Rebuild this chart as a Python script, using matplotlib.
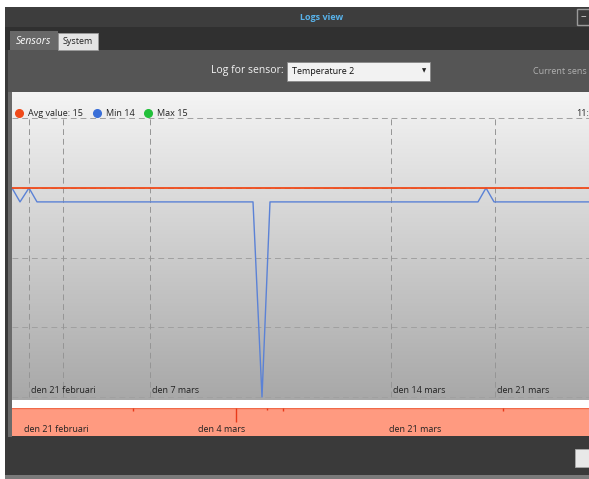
import numpy as np
import matplotlib
matplotlib.use("Agg")
import matplotlib.pyplot as plt
from matplotlib.patches import Rectangle
from matplotlib.lines import Line2D

W, H = 589, 479

# data (x = sample position along the log, y = temperature)
sample_t = [0, 8, 17, 25, 241, 250, 258, 466, 474, 482, 577]
min_vals = [15, 14.8, 15, 14.8, 14.8, 12, 14.8, 14.8, 15, 14.8, 14.8]
avg_t = [0, 577]
avg_vals = [15, 15]
grid_levels = [12, 13, 14, 15, 16]
tick_t = [17, 51, 138, 379, 483]
tick_labels = ["den 21 februari", "", "den 7 mars", "den 14 mars", "den 21 mars"]

nav_spike_t = [121, 224, 255, 271, 491]
nav_spike_h = [0.1, 0.5, 0.07, 0.1, 0.12]
nav_tick_t = [12, 186, 377]
nav_labels = ["den 21 februari", "den 4 mars", "den 21 mars"]

legend_items = [("Avg value: 15", "#f04a1a"), ("Min 14", "#3a6fd8"), ("Max 15", "#22c03a")]

plt.rcParams['font.family'] = ['Open Sans', 'DejaVu Sans']

fig = plt.figure(figsize=(W / 100, H / 100), dpi=100)
fig.patch.set_facecolor("white")


def fx(x):
    return x / W


def fy(y):
    return 1 - y / H


def rect(x0, y0, x1, y1, color, z=-5, **kw):
    fig.add_artist(Rectangle((fx(x0), fy(y1)), (x1 - x0) / W, (y1 - y0) / H,
                             transform=fig.transFigure, facecolor=color, zorder=z, **kw))


def box(x0, y0, x1, y1):
    return [fx(x0), fy(y1), (x1 - x0) / W, (y1 - y0) / H]


# window frame
rect(5, 7, 589, 477, "#3a3a3a", lw=0)
rect(5, 7, 589, 27, "#3d3d3d", lw=0)
rect(5, 27, 589, 50, "#303030", lw=0)
rect(8, 50, 589, 92, "#555555", lw=0)
rect(8, 92, 12, 437, "#6a6a6a", lw=0)
rect(5, 475, 589, 479, "#7a7a7a", lw=0)

# title bar
fig.text(fx(322), fy(17), "Logs view", color="#58b2ea", fontsize=6.5, fontweight="bold",
         ha="center", va="center")
rect(577, 9, 592, 25, "#3a3a3a", z=-4, lw=1, edgecolor="#9a9a9a")
fig.text(fx(583), fy(17), "–", color="#dddddd", fontsize=8, ha="center", va="center")

# tabs
rect(10, 31, 58, 50, "#686868", z=-4, lw=0)
fig.text(fx(16), fy(41), "Sensors", color="white", fontsize=7.5, style="italic", va="center")
rect(58, 33, 98, 50, "#e4e4e4", z=-4, lw=0.6, edgecolor="#999999")
fig.text(fx(63), fy(42), "System", color="#222222", fontsize=6.5, va="center")

# sensor selector
fig.text(fx(284), fy(71), "Log for sensor:", color="#f2f2f2", fontsize=7.5, ha="right", va="center")
rect(287, 62, 430, 81, "#f2f2f2", z=-4, lw=0.6, edgecolor="#888888")
fig.text(fx(292), fy(71.5), "Temperature 2", color="#111111", fontsize=6.5, va="center")
fig.text(fx(424), fy(71), "▼", color="#222222", fontsize=4, ha="center", va="center")
fig.text(fx(533), fy(71), "Current sens", color="#b0b0b0", fontsize=6.5, va="center")

# main chart
ax = fig.add_axes(box(12, 92, 589, 400))
y_top = 15 + (188 - 92) / 69.7
y_bot = 12 - 3 / 69.7
grad = np.linspace(0, 1, 256).reshape(-1, 1)
ax.imshow(grad, extent=[avg_t[0], avg_t[-1], y_bot, y_top], aspect="auto",
          cmap=matplotlib.colors.LinearSegmentedColormap.from_list("bg", ["#f4f4f4", "#a8a8a8"]),
          origin="upper", zorder=0)
ax.set_xlim(avg_t[0], avg_t[-1])
ax.set_ylim(y_bot, y_top)
for lv in grid_levels:
    ax.axhline(lv, color="#a0a0a0", lw=0.7, ls=(0, (6, 4)), zorder=1)
for t in tick_t:
    ax.vlines(t, grid_levels[0], grid_levels[-1], color="#959595", lw=0.7, ls=(0, (6, 4)), zorder=1)
for t, lab in zip(tick_t, tick_labels):
    ax.text(t + 2, 12.1, lab, fontsize=6.5, color="#222222", va="center")
ax.plot(avg_t, avg_vals, color="#f04a1a", lw=1.3, zorder=3)
ax.plot(sample_t, min_vals, color="#5b82d6", lw=1, zorder=2)
ax.set_xticks([])
ax.set_yticks([])
for s in ax.spines.values():
    s.set_visible(False)

# legend
lx = [19, 97, 148]
for (lab, col), x in zip(legend_items, lx):
    fig.add_artist(Line2D([fx(x)], [fy(113)], marker="o", ms=5.5, color=col, lw=0,
                          transform=fig.transFigure, zorder=5))
    fig.text(fx(x + 9), fy(113), lab, fontsize=6.5, color="#222222", va="center")
fig.text(fx(576), fy(113), "11:", fontsize=6.5, color="#222222", va="center")

# navigator
rect(12, 400, 589, 408, "white", z=-4, lw=0)
nav = fig.add_axes(box(12, 408, 589, 436))
nav.set_facecolor("#ff9a80")
nav.set_xlim(avg_t[0], avg_t[-1])
nav.set_ylim(0, 1)
nav.axhline(1, color="#f06a4a", lw=1)
nav.vlines(nav_spike_t, [1 - h for h in nav_spike_h], 1, color="#e83a1a", lw=1)
for t, lab in zip(nav_tick_t, nav_labels):
    nav.text(t, 0.25, lab, fontsize=6.5, color="#222222", va="center")
nav.set_xticks([])
nav.set_yticks([])
for s in nav.spines.values():
    s.set_visible(False)

# footer button
rect(575, 449, 592, 467, "#e8e8e8", z=-4, lw=0.6, edgecolor="#aaaaaa")

fig.savefig("out.png", dpi=100)
